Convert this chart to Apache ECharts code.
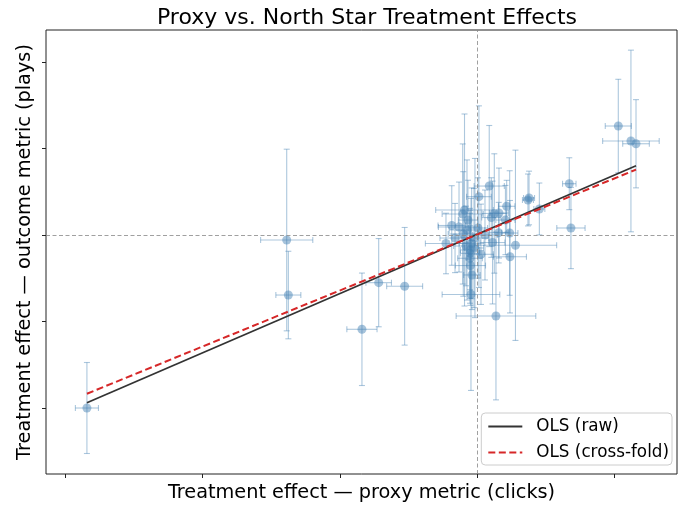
<!DOCTYPE html>
<html>
<head>
<meta charset="utf-8">
<script src="https://cdn.jsdelivr.net/npm/echarts@6/dist/echarts.min.js"></script>
<style>
  html, body { margin: 0; padding: 0; background: #fff; }
  #chart { width: 680px; height: 510px; }
</style>
</head>
<body>
<div id="chart"></div>
<script>
// treatment effects per experiment (proxy on x, outcome on y), with standard errors
var proxyEffect = [
  -2.843, -1.388, -1.376, -0.840, -0.718, -0.529, 1.027, 1.119, 1.156, 0.670, 0.682,
  0.087, 0.012, -0.093, -0.186, -0.228, 0.214, 0.124, 0.102, 0.205, 0.236,
  0.278, 0.156, 0.111, 0.238, 0.027, -0.050, -0.053, -0.046, 0.136, 0.377,
  0.369, 0.452, -0.102, -0.075, -0.041, -0.053, -0.053, -0.133, -0.162, -0.017,
  -0.024, -0.082, -0.106, 0.005, 0.056, 0.158, -0.068, -0.039
];
var outcomeEffect = [
  -2.000, -0.058, -0.694, -1.090, -0.551, -0.593, 1.260, 1.087, 1.055, 0.593, 0.081,
  0.566, 0.443, 0.289, 0.110, -0.098, 0.332, 0.249, 0.202, 0.173, 0.023,
  -0.119, 0.027, -0.087, -0.251, -0.223, -0.353, -0.212, -0.687, -0.936, 0.428,
  0.405, 0.301, 0.012, 0.058, -0.096, -0.173, -0.269, 0.092, -0.035, -0.035,
  -0.150, -0.127, 0.243, 0.081, 0.000, 0.254, 0.173, -0.462
];
var proxyErr = [
  0.084, 0.190, 0.091, 0.110, 0.093, 0.131, 0.095, 0.206, 0.097, 0.049, 0.103,
  0.110, 0.090, 0.210, 0.100, 0.150, 0.060, 0.090, 0.070, 0.070, 0.060,
  0.300, 0.070, 0.090, 0.120, 0.090, 0.110, 0.070, 0.210, 0.290, 0.040,
  0.040, 0.040, 0.110, 0.130, 0.090, 0.070, 0.090, 0.150, 0.110, 0.100,
  0.070, 0.090, 0.150, 0.070, 0.090, 0.070, 0.070, 0.060
];
var outcomeErr = [
  0.526, 1.050, 0.506, 0.650, 0.510, 0.680, 0.540, 1.050, 0.510, 0.300, 0.470,
  0.700, 1.050, 1.110, 0.460, 0.350, 0.300, 0.690, 0.460, 0.400, 0.720,
  1.100, 0.350, 0.710, 0.650, 0.580, 0.460, 0.520, 1.110, 0.970, 0.310,
  0.300, 0.300, 0.720, 0.810, 0.640, 0.460, 0.520, 0.520, 0.400, 0.920,
  0.690, 0.460, 0.810, 0.580, 0.520, 0.520, 0.460, 0.400
];
// fitted lines, endpoints
var olsRaw = [[-2.843, -1.939], [1.156, 0.801]];
var olsCrossFold = [[-2.843, -1.835], [1.156, 0.756]];
var tickValuesX = [-3, -2, -1, 0, 1];
var tickValuesY = [-2, -1, 0, 1, 2];

var font = 'DejaVu Sans';
var points = proxyEffect.map(function (x, i) {
  return [x, outcomeEffect[i], proxyErr[i], outcomeErr[i]];
});

function renderErrorBar(params, api) {
  var x = api.value(0), y = api.value(1), xe = api.value(2), ye = api.value(3);
  var l = api.coord([x - xe, y]), r = api.coord([x + xe, y]);
  var t = api.coord([x, y + ye]), b = api.coord([x, y - ye]);
  var cap = 3;
  var style = { stroke: 'rgba(70,130,180,0.45)', lineWidth: 1.1 };
  function seg(x1, y1, x2, y2) {
    return { type: 'line', shape: { x1: x1, y1: y1, x2: x2, y2: y2 }, style: style };
  }
  return {
    type: 'group',
    children: [
      seg(l[0], l[1], r[0], r[1]),
      seg(l[0], l[1] - cap, l[0], l[1] + cap),
      seg(r[0], r[1] - cap, r[0], r[1] + cap),
      seg(t[0], t[1], b[0], b[1]),
      seg(t[0] - cap, t[1], t[0] + cap, t[1]),
      seg(b[0] - cap, b[1], b[0] + cap, b[1])
    ]
  };
}

var chart = echarts.init(document.getElementById('chart'));
chart.setOption({
  animation: false,
  backgroundColor: '#fff',
  title: {
    text: 'Proxy vs. North Star Treatment Effects',
    left: 362, top: 2, textAlign: 'center',
    textStyle: { fontFamily: font, fontSize: 22, fontWeight: 'normal', color: '#000' }
  },
  grid: {
    left: 46, right: 3, top: 30, bottom: 36,
    show: true, borderColor: '#222', borderWidth: 1
  },
  legend: {
    data: ['OLS (raw)', 'OLS (cross-fold)'],
    orient: 'vertical', right: 8, bottom: 45,
    itemWidth: 34, itemHeight: 14, itemGap: 9,
    padding: [5, 3, 4, 6],
    itemStyle: { opacity: 0 },
    backgroundColor: 'rgba(255,255,255,0.85)',
    borderColor: '#ccc', borderWidth: 1, borderRadius: 4,
    textStyle: { fontFamily: font, fontSize: 16.8, color: '#000', padding: [0, 0, 0, 9] }
  },
  xAxis: {
    type: 'value', min: -3.141, max: 1.4545,
    name: 'Treatment effect \u2014 proxy metric (clicks)',
    nameLocation: 'middle', nameGap: 9,
    nameTextStyle: { fontFamily: font, fontSize: 19.3, color: '#000' },
    axisLine: { show: false, onZero: false },
    axisTick: { show: true, length: 4, customValues: tickValuesX, lineStyle: { color: '#222', width: 1 } },
    axisLabel: { show: false },
    splitLine: { show: false }
  },
  yAxis: {
    type: 'value', min: -2.763, max: 2.370,
    name: 'Treatment effect \u2014 outcome metric (plays)',
    nameLocation: 'middle', nameGap: 12,
    nameTextStyle: { fontFamily: font, fontSize: 19.3, color: '#000' },
    axisLine: { show: false, onZero: false },
    axisTick: { show: true, length: 4, customValues: tickValuesY, lineStyle: { color: '#222', width: 1 } },
    axisLabel: { show: false },
    splitLine: { show: false }
  },
  series: [
    {
      type: 'custom',
      name: 'errors',
      renderItem: renderErrorBar,
      data: points,
      encode: { x: 0, y: 1 },
      z: 2,
      silent: true
    },
    {
      type: 'scatter',
      name: 'experiments',
      data: points.map(function (p) { return [p[0], p[1]]; }),
      symbolSize: 9,
      itemStyle: { color: 'rgba(70,130,180,0.6)' },
      z: 3,
      markLine: {
        silent: true,
        symbol: 'none',
        label: { show: false },
        lineStyle: { color: '#888', width: 0.8, type: [4, 2.5] },
        data: [{ xAxis: 0 }, { yAxis: 0 }]
      }
    },
    {
      type: 'line',
      name: 'OLS (raw)',
      data: olsRaw,
      showSymbol: false, symbol: 'none',
      lineStyle: { color: '#333', width: 1.8 },
      itemStyle: { color: '#333' },
      z: 4
    },
    {
      type: 'line',
      name: 'OLS (cross-fold)',
      data: olsCrossFold,
      showSymbol: false, symbol: 'none',
      lineStyle: { color: '#d62728', width: 2, type: [7, 3.5] },
      itemStyle: { color: '#d62728' },
      z: 4
    }
  ]
});
</script>
</body>
</html>
